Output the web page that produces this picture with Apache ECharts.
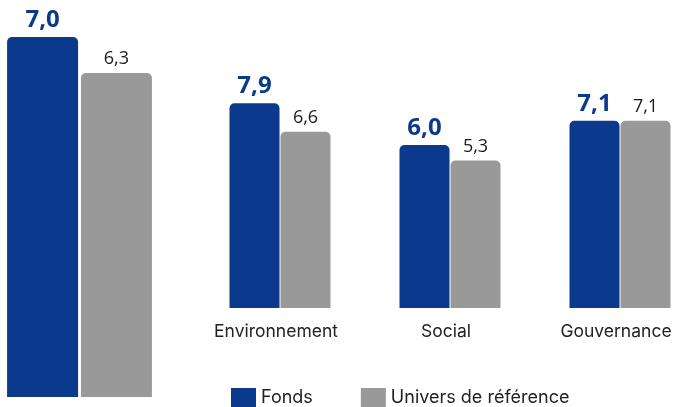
<!DOCTYPE html>
<html>
<head>
<meta charset="utf-8">
<script src="https://cdn.jsdelivr.net/npm/echarts@6/dist/echarts.min.js"></script>
<style>
  html, body { margin: 0; padding: 0; background: #fff; }
  #chart { width: 675px; height: 407px; }
</style>
</head>
<body>
<div id="chart"></div>
<script>
// Overall ESG score (left block) and pillar scores (right block)
const globalCategory = ['Global'];
const globalFonds = [7.0];
const globalUnivers = [6.3];

const pillarCategories = ['Environnement', 'Social', 'Gouvernance'];
const pillarFonds = [7.9, 6.0, 7.1];
const pillarUnivers = [6.6, 5.3, 7.1];

const seriesNames = ['Fonds', 'Univers de référence'];
const BLUE = '#0B3A8C';
const GREY = '#999999';

const fmt = p => p.value.toFixed(1).replace('.', ',');

const fondsLabel = {
  show: true, position: 'top', distance: 5, formatter: fmt,
  color: BLUE, fontFamily: 'Open Sans', fontWeight: 'bold', fontSize: 24
};
const universLabel = {
  show: true, position: 'top', distance: 5, formatter: fmt,
  color: '#1a1a1a', fontFamily: 'Open Sans', fontSize: 18
};
const radius = [5, 5, 0, 0];

const chart = echarts.init(document.getElementById('chart'), null, { renderer: 'canvas' });
chart.setOption({
  animation: false,
  backgroundColor: '#fff',
  legend: {
    left: 231, top: 388, padding: 0,
    itemWidth: 25, itemHeight: 19, itemGap: 48,
    data: seriesNames,
    textStyle: { fontFamily: 'Inter', fontSize: 18, color: '#222' },
    icon: 'rect'
  },
  grid: [
    { left: 0, width: 159, top: 37, height: 360, outerBoundsMode: 'none' },
    // category points sit on the grid edges (boundaryGap false): 280, 450, 620
    { left: 280, width: 340, top: 101, height: 207, outerBoundsMode: 'none' }
  ],
  xAxis: [
    { gridIndex: 0, type: 'category', data: globalCategory,
      axisLine: { show: false }, axisTick: { show: false }, axisLabel: { show: false } },
    { gridIndex: 1, type: 'category', data: pillarCategories, boundaryGap: false,
      axisLine: { show: false }, axisTick: { show: false },
      axisLabel: { margin: 15, fontFamily: 'Inter', fontSize: 17.5, color: '#222',
                   padding: [0, 8, 0, 0] } }
  ],
  yAxis: [
    { gridIndex: 0, type: 'value', min: 0, max: 7.0, show: false, splitLine: { show: false } },
    // pillar scale starts below zero; bars rise from the bottom of the grid
    { gridIndex: 1, type: 'value', min: -1.4, max: 8, startValue: -1.4,
      show: false, splitLine: { show: false } }
  ],
  series: [
    { name: seriesNames[0], type: 'bar', xAxisIndex: 0, yAxisIndex: 0, data: globalFonds,
      barWidth: 71, barGap: '4%', itemStyle: { color: BLUE, borderRadius: radius }, label: fondsLabel },
    { name: seriesNames[1], type: 'bar', xAxisIndex: 0, yAxisIndex: 0, data: globalUnivers,
      barWidth: 71, barGap: '4%', itemStyle: { color: GREY, borderRadius: radius }, label: universLabel },
    { name: seriesNames[0], type: 'bar', xAxisIndex: 1, yAxisIndex: 1, data: pillarFonds,
      barWidth: 50, barGap: '2%', itemStyle: { color: BLUE, borderRadius: radius }, label: fondsLabel },
    { name: seriesNames[1], type: 'bar', xAxisIndex: 1, yAxisIndex: 1, data: pillarUnivers,
      barWidth: 50, barGap: '2%', itemStyle: { color: GREY, borderRadius: radius }, label: universLabel }
  ]
});
</script>
</body>
</html>
